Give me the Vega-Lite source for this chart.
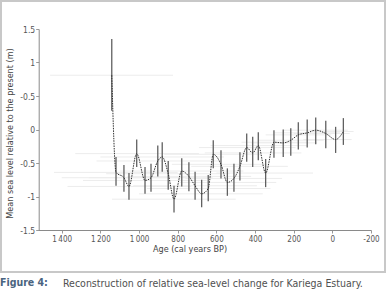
{
  "$schema": "https://vega.github.io/schema/vega-lite/v6.json",
  "padding": 0,
  "background": "white",
  "title": {"text": "Figure 4:", "orient": "bottom", "anchor": "start", "font": "DejaVu Sans Condensed, Liberation Sans, sans-serif", "fontSize": 10.5, "fontWeight": "bold", "color": "#4a6480", "offset": 0, "dy": -13},
  "config": {
    "view": {"stroke": "#c8c8c8", "strokeWidth": 2},
    "concat": {"spacing": 0},
    "font": "DejaVu Sans Condensed, Liberation Sans, sans-serif"
  },
  "vconcat": [
    {
      "width": 384,
      "height": 271,
      "title": {"text": "Reconstruction of relative sea-level change for Kariega Estuary.", "orient": "bottom", "anchor": "start", "dx": 62, "offset": 7, "font": "DejaVu Sans Condensed, Liberation Sans, sans-serif", "fontSize": 10.5, "fontWeight": "normal", "color": "#505050"},
      "data": {"values": [
        {"age": 1141, "msl": 0.81, "lo": 0.28, "hi": 1.35, "a1": 824, "a2": 1460},
        {"age": 1119, "msl": -0.64, "lo": -0.84, "hi": -0.41, "a1": 800, "a2": 1440},
        {"age": 1078, "msl": -0.72, "lo": -0.93, "hi": -0.53, "a1": 760, "a2": 1400},
        {"age": 1052, "msl": -0.85, "lo": -1.05, "hi": -0.65, "a1": 730, "a2": 1370},
        {"age": 1012, "msl": -0.36, "lo": -0.56, "hi": -0.15, "a1": 690, "a2": 1330},
        {"age": 969, "msl": -0.76, "lo": -0.96, "hi": -0.56, "a1": 650, "a2": 1290},
        {"age": 938, "msl": -0.72, "lo": -0.93, "hi": -0.51, "a1": 620, "a2": 1260},
        {"age": 903, "msl": -0.47, "lo": -0.7, "hi": -0.24, "a1": 580, "a2": 1220},
        {"age": 880, "msl": -0.41, "lo": -0.63, "hi": -0.19, "a1": 560, "a2": 1200},
        {"age": 849, "msl": -0.66, "lo": -0.9, "hi": -0.47, "a1": 530, "a2": 1170},
        {"age": 819, "msl": -1.04, "lo": -1.24, "hi": -0.84, "a1": 500, "a2": 1140},
        {"age": 779, "msl": -0.62, "lo": -0.85, "hi": -0.43, "a1": 460, "a2": 1100},
        {"age": 742, "msl": -0.7, "lo": -0.92, "hi": -0.49, "a1": 420, "a2": 1060},
        {"age": 710, "msl": -0.84, "lo": -1.05, "hi": -0.63, "a1": 390, "a2": 1030},
        {"age": 676, "msl": -0.96, "lo": -1.16, "hi": -0.75, "a1": 360, "a2": 1000},
        {"age": 642, "msl": -0.88, "lo": -1.07, "hi": -0.68, "a1": 320, "a2": 960},
        {"age": 616, "msl": -0.37, "lo": -0.58, "hi": -0.16, "a1": 370, "a2": 870},
        {"age": 576, "msl": -0.52, "lo": -0.73, "hi": -0.31, "a1": 330, "a2": 830},
        {"age": 543, "msl": -0.79, "lo": -0.99, "hi": -0.58, "a1": 290, "a2": 790},
        {"age": 509, "msl": -0.73, "lo": -0.93, "hi": -0.51, "a1": 260, "a2": 760},
        {"age": 478, "msl": -0.55, "lo": -0.76, "hi": -0.34, "a1": 230, "a2": 730},
        {"age": 443, "msl": -0.27, "lo": -0.48, "hi": -0.06, "a1": 190, "a2": 690},
        {"age": 412, "msl": -0.35, "lo": -0.56, "hi": -0.11, "a1": 160, "a2": 660},
        {"age": 383, "msl": -0.24, "lo": -0.46, "hi": -0.04, "a1": 130, "a2": 630},
        {"age": 345, "msl": -0.65, "lo": -0.86, "hi": -0.44, "a1": 100, "a2": 600},
        {"age": 302, "msl": -0.19, "lo": -0.42, "hi": -0.01, "a1": 130, "a2": 470},
        {"age": 254, "msl": -0.2, "lo": -0.41, "hi": 0.0, "a1": 80, "a2": 420},
        {"age": 215, "msl": -0.16, "lo": -0.39, "hi": 0.02, "a1": 45, "a2": 385},
        {"age": 176, "msl": -0.08, "lo": -0.3, "hi": 0.11, "a1": 5, "a2": 345},
        {"age": 130, "msl": -0.05, "lo": -0.27, "hi": 0.15, "a1": -40, "a2": 300},
        {"age": 86, "msl": -0.01, "lo": -0.22, "hi": 0.18, "a1": -80, "a2": 255},
        {"age": 34, "msl": -0.06, "lo": -0.28, "hi": 0.13, "a1": -90, "a2": 200},
        {"age": -17, "msl": -0.15, "lo": -0.35, "hi": 0.04, "a1": -100, "a2": 150},
        {"age": -57, "msl": -0.03, "lo": -0.23, "hi": 0.17, "a1": -110, "a2": 100}
      ]},
      "layer": [
        {
          "mark": {"type": "rule", "color": "#ececec", "strokeWidth": 1},
          "encoding": {
            "x": {"field": "a1", "type": "quantitative", "scale": {"domain": [-200, 1520], "range": [370, 37.5], "nice": false, "zero": false},
              "axis": {"values": [1400, 1200, 1000, 800, 600, 400, 200, 0, -200], "labelExpr": "(datum.value < 0 ? '-' : '') + replace(format(abs(datum.value), ','), ',', '\u2009')", "offset": -42, "grid": false, "title": "Age (cal years BP)", "titleX": 188.5, "titleY": 18, "titleBaseline": "middle", "titleFontSize": 9, "titleFontWeight": "normal", "titleColor": "#444444", "labelFontSize": 8, "labelColor": "#555555", "labelPadding": 2, "tickSize": 3, "tickColor": "#999999", "domainColor": "#8a8a8a", "labelFlush": false, "labelOverlap": false}},
            "x2": {"field": "a2"},
            "y": {"field": "msl", "type": "quantitative", "scale": {"domain": [-1.5, 1.5], "range": [229, 28], "nice": false, "zero": false},
              "axis": {"values": [-1.5, -1, -0.5, 0, 0.5, 1, 1.5], "labelExpr": "datum.value == 0.5 ? '-0.5' : (datum.value < 0 ? '-' : '') + format(abs(datum.value), '~g')", "offset": -37.7, "grid": false, "title": "Mean sea level relative to the present (m)", "titleX": -29, "titleY": 132, "titleBaseline": "middle", "titleFontSize": 9, "titleFontWeight": "normal", "titleColor": "#444444", "labelFontSize": 8.5, "labelColor": "#555555", "labelPadding": 1, "tickSize": 3, "tickColor": "#999999", "domainColor": "#8a8a8a", "labelFlush": false, "labelOverlap": false}}
          }
        },
        {
          "mark": {"type": "rule", "color": "#606060", "strokeWidth": 1.3},
          "encoding": {
            "x": {"field": "age", "type": "quantitative", "scale": {"domain": [-200, 1520], "range": [370, 37.5], "nice": false, "zero": false},
              "axis": {"values": [1400, 1200, 1000, 800, 600, 400, 200, 0, -200], "labelExpr": "(datum.value < 0 ? '-' : '') + replace(format(abs(datum.value), ','), ',', '\u2009')", "offset": -42, "grid": false, "title": "Age (cal years BP)", "titleX": 188.5, "titleY": 18, "titleBaseline": "middle", "titleFontSize": 9, "titleFontWeight": "normal", "titleColor": "#444444", "labelFontSize": 8, "labelColor": "#555555", "labelPadding": 2, "tickSize": 3, "tickColor": "#999999", "domainColor": "#8a8a8a", "labelFlush": false, "labelOverlap": false}},
            "y": {"field": "lo", "type": "quantitative", "scale": {"domain": [-1.5, 1.5], "range": [229, 28], "nice": false, "zero": false},
              "axis": {"values": [-1.5, -1, -0.5, 0, 0.5, 1, 1.5], "labelExpr": "datum.value == 0.5 ? '-0.5' : (datum.value < 0 ? '-' : '') + format(abs(datum.value), '~g')", "offset": -37.7, "grid": false, "title": "Mean sea level relative to the present (m)", "titleX": -29, "titleY": 132, "titleBaseline": "middle", "titleFontSize": 9, "titleFontWeight": "normal", "titleColor": "#444444", "labelFontSize": 8.5, "labelColor": "#555555", "labelPadding": 1, "tickSize": 3, "tickColor": "#999999", "domainColor": "#8a8a8a", "labelFlush": false, "labelOverlap": false}},
            "y2": {"field": "hi"}
          }
        },
        {
          "mark": {"type": "line", "color": "#303030", "strokeWidth": 1, "strokeDash": [1.5, 1], "interpolate": "monotone"},
          "encoding": {
            "x": {"field": "age", "type": "quantitative",
              "scale": {"domain": [-200, 1520], "range": [370, 37.5], "nice": false, "zero": false},
              "axis": {"values": [1400, 1200, 1000, 800, 600, 400, 200, 0, -200], "labelExpr": "(datum.value < 0 ? '-' : '') + replace(format(abs(datum.value), ','), ',', '\u2009')", "offset": -42, "grid": false, "title": "Age (cal years BP)", "titleX": 188.5, "titleY": 18, "titleBaseline": "middle", "titleFontSize": 9, "titleFontWeight": "normal", "titleColor": "#444444", "labelFontSize": 8, "labelColor": "#555555", "labelPadding": 2, "tickSize": 3, "tickColor": "#999999", "domainColor": "#8a8a8a", "labelFlush": false, "labelOverlap": false}
            },
            "y": {"field": "msl", "type": "quantitative",
              "scale": {"domain": [-1.5, 1.5], "range": [229, 28], "nice": false, "zero": false},
              "axis": {"values": [-1.5, -1, -0.5, 0, 0.5, 1, 1.5], "labelExpr": "datum.value == 0.5 ? '-0.5' : (datum.value < 0 ? '-' : '') + format(abs(datum.value), '~g')", "offset": -37.7, "grid": false, "title": "Mean sea level relative to the present (m)", "titleX": -29, "titleY": 132, "titleBaseline": "middle", "titleFontSize": 9, "titleFontWeight": "normal", "titleColor": "#444444", "labelFontSize": 8.5, "labelColor": "#555555", "labelPadding": 1, "tickSize": 3, "tickColor": "#999999", "domainColor": "#8a8a8a", "labelFlush": false, "labelOverlap": false}
            }
          }
        }
      ]
    }
  ]
}
